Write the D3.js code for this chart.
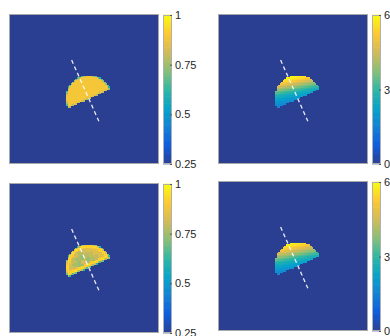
<!DOCTYPE html>
<html>
<head>
<meta charset="utf-8">
<script src="https://cdn.jsdelivr.net/npm/d3@7"></script>
<style>
  html, body { margin: 0; padding: 0; background: #fff; }
  svg { display: block; }
</style>
</head>
<body>
<div id="chart"></div>
<script>
const kWidth = 390;
const kHeight = 336;
const kPanelSize = 150;
const kBarWidth = 9;

// parula-like colour stops, low -> high
const kParula = ["#2b3f92", "#0f5cdd", "#1481d6", "#06a4ca", "#2eb7a4", "#87bf77", "#d1bb59", "#fec832", "#f9fb0e"];

// image grid (cells) and the half disc
const gridExtent = [0, 100];
const shapeCenter = [53, 56];
const shapeRadius = 15.5;
const shapeTilt = 24;          // degrees, flat edge rises to the right
const dashExtent = [-17, 29];  // along the symmetry axis

const leftRange = [0.25, 1];
const leftTicks = [0.25, 0.5, 0.75, 1];
const rightRange = [0, 6];
const rightTicks = [0, 3, 6];

// top-left: value against depth below the arc / above the flat edge
const tlArcDepth = [0, 0.6, 1.0, 20];
const tlArcValue = [0.58, 0.74, 0.89, 0.89];
const tlEdgeDepth = [0, 0.7, 20];
const tlEdgeValue = [0.76, 0.89, 0.89];

// bottom-left: bright rim, mottled inside (rows from flat edge up, cols left to right)
const blRimDepth = [0, 0.6, 1.1, 2.6];
const blRimValue = [0.6, 0.82, 0.95, 0.9];
const blMottle = [
  [0.90, 0.86, 0.84, 0.80, 0.76, 0.80, 0.74, 0.80, 0.86, 0.90],
  [0.88, 0.82, 0.76, 0.74, 0.82, 0.74, 0.78, 0.80, 0.84, 0.88],
  [0.88, 0.84, 0.80, 0.76, 0.74, 0.78, 0.80, 0.84, 0.86, 0.88],
  [0.90, 0.86, 0.84, 0.82, 0.78, 0.82, 0.84, 0.86, 0.88, 0.90],
  [0.92, 0.90, 0.88, 0.86, 0.86, 0.86, 0.88, 0.90, 0.92, 0.92]
];

// right panels: value against tilted height in the image
const trLevel = [40, 43, 46, 49, 52, 56, 60, 64];
const trValue = [6.2, 5.5, 4.5, 3.5, 2.6, 1.9, 1.4, 1.1];
const brLevel = [40, 43, 46, 49, 52, 56, 60, 64];
const brValue = [6.1, 5.4, 4.5, 3.6, 2.7, 2.0, 1.5, 1.2];

function makeColor(range)
{
  const n = kParula.length;
  return d3.scaleLinear()
    .domain(kParula.map((c, i) => range[0] + (range[1] - range[0]) * i / (n - 1)))
    .range(kParula)
    .interpolate(d3.interpolateRgb)
    .clamp(true);
}

const tlArc = d3.scaleLinear().domain(tlArcDepth).range(tlArcValue).clamp(true);
const tlEdge = d3.scaleLinear().domain(tlEdgeDepth).range(tlEdgeValue).clamp(true);
const blRim = d3.scaleLinear().domain(blRimDepth).range(blRimValue).clamp(true);
const trProfile = d3.scaleLinear().domain(trLevel).range(trValue).clamp(true);
const brProfile = d3.scaleLinear().domain(brLevel).range(brValue).clamp(true);

const panels = [
  { x: 9, y: 14, range: leftRange, ticks: leftTicks,
    value: c => Math.min(tlArc(c.arc), tlEdge(c.v)) },
  { x: 218, y: 14, range: rightRange, ticks: rightTicks,
    value: c => trProfile(c.py + 0.2 * (c.px - shapeCenter[0])) },
  { x: 9, y: 183, range: leftRange, ticks: leftTicks,
    value: c => {
      const depth = Math.min(c.arc, c.v);
      if (depth < 2.6) return blRim(depth);
      const row = Math.min(4, Math.floor(c.v / shapeRadius * 5));
      const col = Math.max(0, Math.min(9, Math.floor((c.u + shapeRadius) / (2 * shapeRadius) * 10)));
      return blMottle[row][col];
    } },
  { x: 218, y: 181, range: rightRange, ticks: rightTicks,
    value: c => brProfile(c.py + 0.2 * (c.px - shapeCenter[0])) }
];

// cells of the grid that fall inside the half disc
const tilt = shapeTilt * Math.PI / 180;
const flatDir = [Math.cos(tilt), -Math.sin(tilt)];
const axisDir = [-Math.sin(tilt), -Math.cos(tilt)];
const cells = [];
for (let j = gridExtent[0]; j < gridExtent[1]; j++) {
  for (let i = gridExtent[0]; i < gridExtent[1]; i++) {
    const dx = i + 0.5 - shapeCenter[0];
    const dy = j + 0.5 - shapeCenter[1];
    const u = dx * flatDir[0] + dy * flatDir[1];
    const v = dx * axisDir[0] + dy * axisDir[1];
    const rr = Math.sqrt(u * u + v * v);
    if (rr <= shapeRadius && v >= 0) {
      cells.push({ i, j, px: i + 0.5, py: j + 0.5, u, v, arc: shapeRadius - rr });
    }
  }
}

const svg = d3.select("#chart")
  .append("svg")
  .attr("width", kWidth)
  .attr("height", kHeight);

panels.forEach(p => {
  const color = makeColor(p.range);
  const xScale = d3.scaleLinear().domain(gridExtent).range([p.x, p.x + kPanelSize]);
  const yScale = d3.scaleLinear().domain(gridExtent).range([p.y, p.y + kPanelSize]);
  const cw = xScale(1) - xScale(0);

  const g = svg.append("g");

  g.append("rect")
    .attr("x", p.x)
    .attr("y", p.y)
    .attr("width", kPanelSize)
    .attr("height", kPanelSize)
    .attr("fill", color(p.range[0]));

  g.append("g")
    .attr("shape-rendering", "crispEdges")
    .selectAll("rect")
    .data(cells)
    .enter()
    .append("rect")
    .attr("x", d => xScale(d.i))
    .attr("y", d => yScale(d.j))
    .attr("width", cw + 0.5)
    .attr("height", cw + 0.5)
    .attr("fill", d => color(p.value(d)));

  const dash = dashExtent.map(t => [shapeCenter[0] + t * axisDir[0], shapeCenter[1] + t * axisDir[1]]);
  g.append("line")
    .attr("x1", xScale(dash[0][0]))
    .attr("y1", yScale(dash[0][1]))
    .attr("x2", xScale(dash[1][0]))
    .attr("y2", yScale(dash[1][1]))
    .attr("stroke", "#fff")
    .attr("stroke-width", 1.3)
    .attr("stroke-dasharray", "4,3")
    .attr("opacity", 0.9);

  g.append("rect")
    .attr("x", p.x + 0.5)
    .attr("y", p.y + 0.5)
    .attr("width", kPanelSize - 1)
    .attr("height", kPanelSize - 1)
    .attr("fill", "none")
    .attr("stroke", "#a8a8a8")
    .attr("stroke-width", 1);

  // colour bar
  const bx = p.x + kPanelSize + 4;
  const barScale = d3.scaleLinear().domain(p.range).range([p.y + kPanelSize, p.y + 1]);
  const steps = d3.range(64).map(k => p.range[0] + (p.range[1] - p.range[0]) * k / 64);
  const stepH = (barScale(p.range[0]) - barScale(p.range[1])) / 64;

  g.selectAll("rect.bar")
    .data(steps)
    .enter()
    .append("rect")
    .attr("class", "bar")
    .attr("x", bx)
    .attr("y", d => barScale(d) - stepH - 0.3)
    .attr("width", kBarWidth)
    .attr("height", stepH + 0.6)
    .attr("fill", d => color(d + (p.range[1] - p.range[0]) / 128));

  g.append("rect")
    .attr("x", bx + 0.5)
    .attr("y", barScale(p.range[1]) + 0.5)
    .attr("width", kBarWidth - 1)
    .attr("height", barScale(p.range[0]) - barScale(p.range[1]) - 1)
    .attr("fill", "none")
    .attr("stroke", "#b0b0b0")
    .attr("stroke-width", 1);

  const axis = d3.axisRight(barScale)
    .tickValues(p.ticks)
    .tickFormat(d3.format("~g"))
    .tickSizeInner(-2)
    .tickSizeOuter(0)
    .tickPadding(3);

  const ax = g.append("g")
    .attr("transform", `translate(${bx + kBarWidth}, 0)`)
    .call(axis);
  ax.select(".domain").remove();
  ax.selectAll(".tick line").attr("stroke", "#555");
  ax.selectAll(".tick text")
    .attr("fill", "#262626")
    .style("font-family", "'Liberation Sans', Arial, sans-serif")
    .style("font-size", "11px");
});
</script>
</body>
</html>
